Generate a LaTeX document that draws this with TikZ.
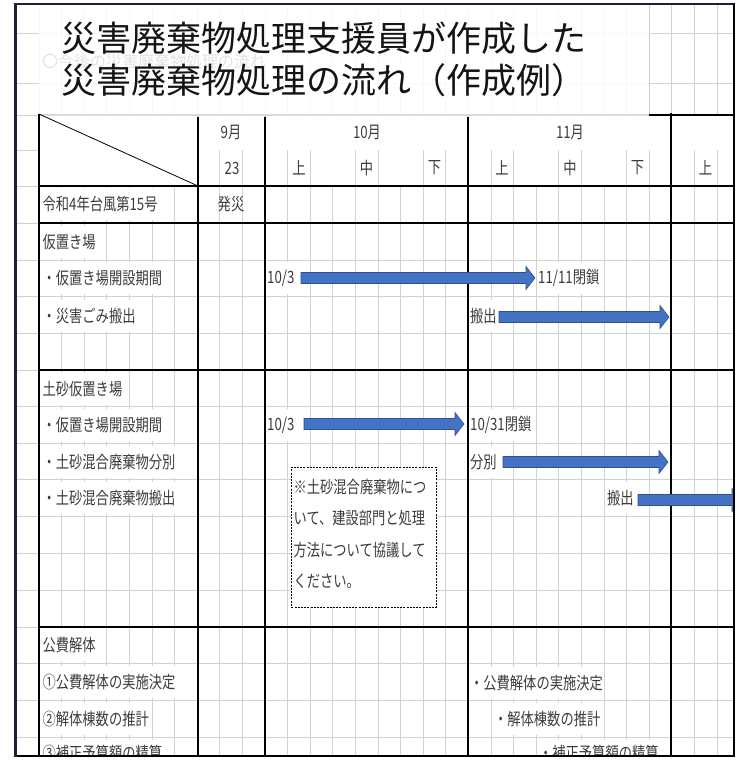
\documentclass[tikz,border=0pt]{standalone}
\usepackage{fontspec}
\usetikzlibrary{calc}
\newfontfamily\jp[FakeStretch=0.78]{Noto Sans CJK JP}
\newfontfamily\jpt{Noto Sans CJK JP}
\definecolor{gridc}{HTML}{D2D2D2}
\definecolor{txtc}{HTML}{3C3C3C}
\definecolor{arrowc}{HTML}{4472C4}
\definecolor{arrowe}{HTML}{2F528F}
\definecolor{framec}{HTML}{1E1E3C}
\newcommand{\blockarr}[2]{%
  \filldraw[barrow] ($(#1)+(0,-5.5)$) -- ($(#2)+(-9,-5.5)$) -- ($(#2)+(-9,-11.5)$) -- (#2)
    -- ($(#2)+(-9,11.5)$) -- ($(#2)+(-9,5.5)$) -- ($(#1)+(0,5.5)$) -- cycle;}
\begin{document}
\begin{tikzpicture}[x=1pt,y=-1pt,
  gline/.style={draw=gridc,line width=0.9},
  bline/.style={draw=black,line width=1.3},
  lbl/.style={font=\jp\fontsize{17}{19}\selectfont,text=txtc,anchor=west,fill=white,inner xsep=1pt,inner ysep=0pt,minimum height=32},
  hdr/.style={font=\jp\fontsize{17}{19}\selectfont,text=txtc,inner sep=0pt},
  barrow/.style={fill=arrowc,draw=arrowe,line width=0.6},
  notebox/.style={draw=black,dash pattern=on 2pt off 1.2pt,line width=0.7,fill=white,anchor=north west,minimum width=145,minimum height=140,inner sep=0pt}]
\useasboundingbox (0,0) rectangle (743,763);
\fill[white] (0,0) rectangle (743,763);
\begin{scope}
\clip (16,4) rectangle (734,756);
% gray grid: top region
\foreach \k in {1,...,31} \draw[gline] ({16.4+22.6*\k},4) -- ({16.4+22.6*\k},115);
\foreach \y in {33,83} \draw[gline] (16,\y) -- (734,\y);
% outer column horizontals in header
\foreach \y in {115,150,186} \draw[gline] (16,\y) -- (39,\y);
% header row 2 small cells
\foreach \k in {9,10,12,13,15,16,18,19,21,22,24,25,27,28,30,31} \draw[gline] ({16.4+22.6*\k},150) -- ({16.4+22.6*\k},186);
% body grid
\foreach \k in {1,...,31} \draw[gline] ({16.4+22.6*\k},186) -- ({16.4+22.6*\k},756);
\foreach \y in {223,260,296,333,370,406,443,479,516,553,590,627,663,700,737} \draw[gline] (16,\y) -- (734,\y);
% black table lines
\draw[bline] (39,115) -- (734,115);
\foreach \y in {186,223,370,627} \draw[bline] (39,\y) -- (734,\y);
\foreach \x in {198,265,468} \draw[bline] (\x,115) -- (\x,756);
\draw[bline] (671,113) -- (671,756);
% title box
\fill[white,opacity=0.85] (39,4) rectangle (649,116.5);
\draw[bline] (39,114) -- (39,756);
\draw[draw=black,line width=0.8] (39,114) -- (198,186);
\node[font=\jpt\fontsize{16}{18}\selectfont,text=black!11,anchor=west,inner sep=0pt] (faint) at (42,61) {〇今後の災害廃棄物処理の流れ};
\node[font=\jpt\fontsize{35}{42}\selectfont,text=black!92,anchor=west,inner sep=0pt] (t1) at (61,38) {災害廃棄物処理支援員が作成した};
\node[font=\jpt\fontsize{35}{42}\selectfont,text=black!92,anchor=west,inner sep=0pt] (t2) at (61,80) {災害廃棄物処理の流れ（作成例）};
% header
\node[hdr] (m9) at (231,132) {9月};
\node[hdr] (m10) at (367,132) {10月};
\node[hdr] (m11) at (570,132) {11月};
\node[hdr] (d23) at (232,168) {23};
\node[hdr] (h1) at (299,168) {上};
\node[hdr] (h2) at (366.5,168) {中};
\node[hdr] (h3) at (434.5,168) {下};
\node[hdr] (h4) at (502,168) {上};
\node[hdr] (h5) at (570,168) {中};
\node[hdr] (h6) at (637.5,168) {下};
\node[hdr] (h7) at (705.5,168) {上};
% left column
\node[lbl] (r1) at (41.5,204) {令和4年台風第15号};
\node[hdr] (hassai) at (231,204) {発災};
\node[lbl] (r2) at (41.5,242) {仮置き場};
\node[lbl] (r3) at (41.5,278) {・仮置き場開設期間};
\node[lbl] (r4) at (41.5,316) {・災害ごみ搬出};
\node[lbl] (r5) at (41.5,389) {土砂仮置き場};
\node[lbl] (r6) at (41.5,425) {・仮置き場開設期間};
\node[lbl] (r7) at (41.5,462) {・土砂混合廃棄物分別};
\node[lbl] (r8) at (41.5,498) {・土砂混合廃棄物搬出};
\node[lbl] (r9) at (41.5,645) {公費解体};
\node[lbl] (r10) at (41.5,682) {①公費解体の実施決定};
\node[lbl] (r11) at (41.5,719) {②解体棟数の推計};
\node[lbl,minimum height=26] (r12) at (41.5,753) {③補正予算額の精算};
% chart labels
\node[lbl] (l1) at (266,278) {10/3};
\node[lbl] (l2) at (537,278) {11/11閉鎖};
\node[lbl] (l3) at (469,316) {搬出};
\node[lbl] (l4) at (266,425) {10/3};
\node[lbl] (l5) at (469,425) {10/31閉鎖};
\node[lbl] (l6) at (469,462) {分別};
\node[lbl] (l7) at (606,498) {搬出};
\node[lbl] (p1) at (469,683) {・公費解体の実施決定};
\node[lbl] (p2) at (493,719) {・解体棟数の推計};
\node[lbl,minimum height=26] (p3) at (538,753) {・補正予算額の精算};
% arrows
\coordinate (a1s) at (301,278); \coordinate (a1e) at (535,278);
\coordinate (a2s) at (499,317); \coordinate (a2e) at (669,317);
\coordinate (a3s) at (304,424); \coordinate (a3e) at (464,424);
\coordinate (a4s) at (503,462); \coordinate (a4e) at (668,462);
\coordinate (a5s) at (638,500); \coordinate (a5e) at (741,500);
\blockarr{a1s}{a1e}
\blockarr{a2s}{a2e}
\blockarr{a3s}{a3e}
\blockarr{a4s}{a4e}
\blockarr{a5s}{a5e}
% note
\node[notebox] (note) at (291,467) {};
\node[font=\jp\fontsize{17}{31.5}\selectfont,text=txtc,anchor=west,align=left,inner sep=0pt] (notetext) at (293.5,534) {※土砂混合廃棄物につ\\いて、建設部門と処理\\方法について協議して\\ください。};
\end{scope}
% outer frame
\draw[draw=framec,line width=2.2] (14.5,4) -- (734,4);
\draw[draw=black,line width=2] (734,3) -- (734,757);
\draw[draw=black,line width=2.4] (14.5,756) -- (735,756);
\draw[draw=framec,line width=3] (15.5,2.9) -- (15.5,757.2);
\end{tikzpicture}
\end{document}
